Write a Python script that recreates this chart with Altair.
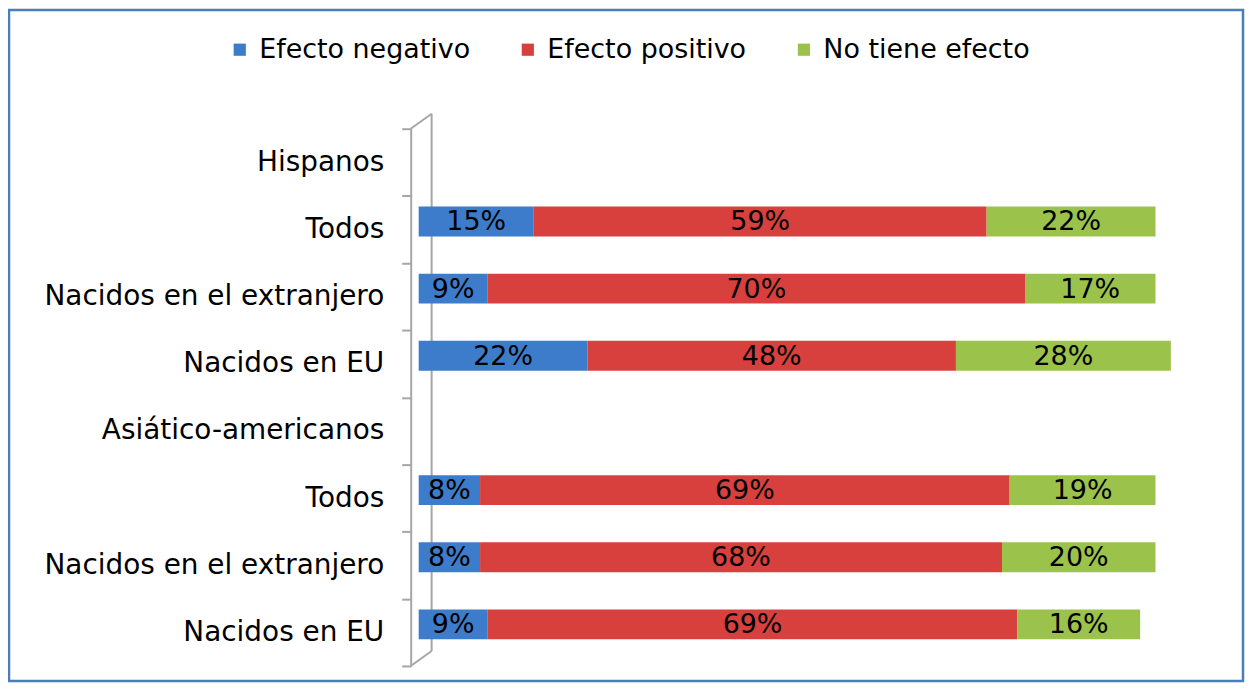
import json
import pandas as pd
import altair as alt

# ---- data ----
series = ["Efecto negativo", "Efecto positivo", "No tiene efecto"]
colors = ["#3d7cca", "#d8403e", "#9bc34c"]
row_labels = ["Hispanos", "Todos", "Nacidos en el extranjero", "Nacidos en EU",
              "Asiático-americanos", "Todos", "Nacidos en el extranjero", "Nacidos en EU"]
bar_rows = [1, 2, 3, 5, 6, 7]
negativo = [15, 9, 22, 8, 8, 9]
positivo = [59, 70, 48, 69, 68, 69]
sin_efecto = [22, 17, 28, 19, 20, 16]

rows = []
for r, vals in zip(bar_rows, zip(negativo, positivo, sin_efecto)):
    start = 0
    for s, v in zip(series, vals):
        rows.append({"row": str(r), "serie": s, "valor": v, "x0": start,
                     "x1": start + v, "mid": start + v / 2, "etiqueta": f"{v}%"})
        start += v
df = pd.DataFrame(rows)
keys = [str(i) for i in range(len(row_labels))]
label_expr = json.dumps(row_labels, ensure_ascii=False) + "[toNumber(datum.value)]"

FONT = "DejaVu Sans"
FS = 27

xscale = alt.Scale(domain=[0, 100], nice=False, zero=True)
yscale = alt.Scale(domain=keys, paddingInner=0, paddingOuter=0)

base = alt.Chart(df)

bars = base.mark_bar(height=30, yOffset=-8).encode(
    x=alt.X("x0:Q", scale=xscale, axis=None),
    x2="x1:Q",
    y=alt.Y("row:N", scale=yscale, axis=alt.Axis(
        title=None, labelExpr=label_expr, tickBand="extent", offset=8,
        tickSize=9, tickColor="#a6a6a6", tickWidth=2, domainColor="#a6a6a6",
        domainWidth=2, labelFont=FONT, labelFontSize=28, labelColor="#000000",
        labelPadding=18, labelLimit=500)),
    color=alt.Color("serie:N", scale=alt.Scale(domain=series, range=colors),
                    legend=alt.Legend(orient="none", legendX=-193, legendY=-93,
                                      direction="horizontal", title=None,
                                      symbolType="square", symbolSize=150,
                                      symbolStrokeWidth=0, labelFont=FONT,
                                      labelFontSize=FS, labelColor="#000000",
                                      columnPadding=44, labelOffset=6,
                                      labelLimit=400)),
)

labels = base.mark_text(font=FONT, fontSize=FS, baseline="middle", dy=-7,
                        color="#000000").encode(
    x=alt.X("mid:Q", scale=xscale),
    y=alt.Y("row:N", scale=yscale),
    text="etiqueta:N",
)

one = alt.Chart(pd.DataFrame({"k": [0]}))
wall_color = "#a6a6a6"
wall_right = one.mark_rule(color=wall_color, strokeWidth=2).encode(
    x=alt.value(13), y=alt.value(-15), y2=alt.value(524))
wall_top = one.mark_rule(color=wall_color, strokeWidth=2).encode(
    x=alt.value(-8), x2=alt.value(13), y=alt.value(0), y2=alt.value(-15))
wall_bottom = one.mark_rule(color=wall_color, strokeWidth=2).encode(
    x=alt.value(-8), x2=alt.value(13), y=alt.value(539), y2=alt.value(524))
border = one.mark_rect(fillOpacity=0, stroke="#4a7ebb", strokeWidth=2.5).encode(
    x=alt.value(-411), x2=alt.value(827), y=alt.value(-119), y2=alt.value(554))

chart = alt.layer(wall_right, wall_top, wall_bottom, bars, labels, border).properties(
    width=770, height=539,
    padding={"left": 412, "top": 120, "right": 59, "bottom": 16},
    autosize=alt.AutoSizeParams(type="none"),
    background="#ffffff",
).configure_view(strokeWidth=0)

chart.save("out.html", embed_options={"renderer": "svg", "actions": False})
